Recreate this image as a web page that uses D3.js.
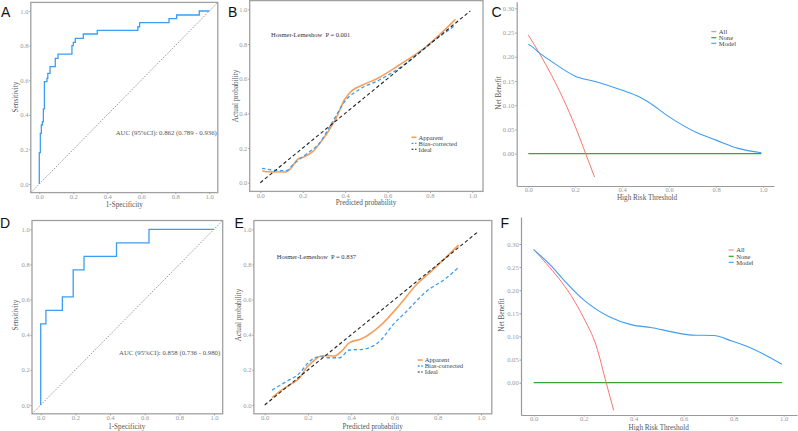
<!DOCTYPE html>
<html>
<head>
<meta charset="utf-8">
<script src="https://cdn.jsdelivr.net/npm/d3@7"></script>
<style>
  body { margin: 0; background: #fff; }
  text { font-family: "Liberation Serif", "DejaVu Serif", serif; }
  .lab { font-family: "Liberation Sans", Arial, sans-serif; }
</style>
</head>
<body>
<div id="chartDiv"></div>
<script>
// ---- data ----
var rocA_fpr = [0, 0, 0.006, 0.012, 0.018, 0.024, 0.03, 0.045, 0.05, 0.063, 0.094, 0.11, 0.192, 0.2, 0.212, 0.259, 0.341, 0.58, 0.59, 0.763, 0.808, 0.941, 1];
var rocA_tpr = [0, 0.181, 0.293, 0.341, 0.36, 0.434, 0.592, 0.61, 0.64, 0.678, 0.726, 0.751, 0.80, 0.819, 0.842, 0.867, 0.888, 0.909, 0.933, 0.956, 0.977, 1, 1];
var rocD_fpr = [0, 0, 0.03, 0.125, 0.1875, 0.25, 0.4375, 0.625, 1];
var rocD_tpr = [0, 0.462, 0.538, 0.615, 0.769, 0.846, 0.923, 1, 1];
var aucA = "AUC (95%CI): 0.862 (0.789 - 0.936)";
var aucD = "AUC (95%CI): 0.858 (0.736 - 0.980)";

var calB_appX = [0.01, 0.027, 0.121, 0.144, 0.176, 0.208, 0.247, 0.286, 0.325, 0.357, 0.396, 0.435, 0.482, 0.561, 0.655, 0.781, 0.92];
var calB_appY = [0.069, 0.063, 0.062, 0.083, 0.135, 0.15, 0.179, 0.236, 0.304, 0.371, 0.477, 0.534, 0.563, 0.607, 0.679, 0.784, 0.942];
var calB_bcX = [0.008, 0.058, 0.121, 0.16, 0.215, 0.278, 0.341, 0.404, 0.467, 0.561, 0.687, 0.813, 0.915];
var calB_bcY = [0.083, 0.073, 0.069, 0.111, 0.163, 0.227, 0.352, 0.477, 0.538, 0.592, 0.688, 0.813, 0.904];
var hlB = "Hosmer-Lemeshow  P = 0.001";

var calE_appX = [0.034, 0.068, 0.114, 0.16, 0.191, 0.222, 0.26, 0.284, 0.322, 0.353, 0.392, 0.446, 0.546, 0.623, 0.7, 0.777, 0.897];
var calE_appY = [0.042, 0.076, 0.114, 0.152, 0.209, 0.247, 0.279, 0.281, 0.279, 0.304, 0.355, 0.376, 0.465, 0.569, 0.683, 0.769, 0.911];
var calE_bcX = [0.034, 0.099, 0.16, 0.206, 0.253, 0.299, 0.345, 0.392, 0.453, 0.538, 0.592, 0.654, 0.746, 0.838, 0.897];
var calE_bcY = [0.085, 0.133, 0.18, 0.247, 0.275, 0.269, 0.269, 0.313, 0.317, 0.37, 0.455, 0.531, 0.645, 0.721, 0.784];
var hlE = "Hosmer-Lemeshow  P = 0.837";

var idealRange = [0, 0.99];
var calLegend = ["Apparent", "Bias-corrected", "Ideal"];

var dcaC_allT = [0, 0.05, 0.1, 0.15, 0.2, 0.25, 0.282];
var dcaC_allV = [0.245, 0.205, 0.161, 0.112, 0.056, -0.007, -0.048];
var dcaC_modT = [0, 0.016, 0.047, 0.1, 0.2, 0.285, 0.4, 0.47, 0.51, 0.6, 0.724, 0.8, 0.894, 0.993];
var dcaC_modV = [0.226, 0.221, 0.208, 0.19, 0.160, 0.149, 0.131, 0.118, 0.107, 0.076, 0.042, 0.028, 0.011, 0.002];
var dcaC_noneT = [0, 0.993];

var dcaF_allT = [0, 0.05, 0.1, 0.15, 0.2, 0.25, 0.29, 0.32];
var dcaF_allV = [0.288, 0.258, 0.226, 0.188, 0.14, 0.08, 0, -0.06];
var dcaF_modT = [0, 0.073, 0.127, 0.2, 0.3, 0.393, 0.473, 0.553, 0.633, 0.72, 0.793, 0.873, 0.993];
var dcaF_modV = [0.288, 0.251, 0.218, 0.179, 0.143, 0.125, 0.119, 0.110, 0.103, 0.102, 0.09, 0.074, 0.040];
var dcaF_noneT = [0, 0.993];
var dcaLegend = ["All", "None", "Model"];

var probTicks = [0, 0.2, 0.4, 0.6, 0.8, 1.0];
var nbTicks = [0, 0.05, 0.10, 0.15, 0.20, 0.25, 0.30];

// ---- colours ----
var blue = "#3d9df3", orange = "#f5a05c", red = "#f8766d", green = "#3aa23a";

var svg = d3.select("#chartDiv").append("svg")
    .attr("width", 798).attr("height", 431);

function zip(a, b) { return a.map(function(v, i) { return [v, b[i]]; }); }

// linear scale fixed by two known tick pixels, stretched over the axis extent
function scaleFrom(v0, p0, v1, p1, pmin, pmax) {
  var s = d3.scaleLinear().domain([v0, v1]).range([p0, p1]);
  return d3.scaleLinear().domain([s.invert(pmin), s.invert(pmax)]).range([pmin, pmax]);
}

var clipN = 0;
function panel(px, py, xt, yt, fmt, boxed) {
  var x = scaleFrom(0, px[0], 1, px[1], px[2], px[3]),
      y = scaleFrom(0, py[0], py[4], py[1], py[2], py[3]);
  var g = svg.append("g");
  var xa = g.append("g").attr("transform", "translate(0," + py[2] + ")")
      .call(d3.axisBottom(x).tickValues(probTicks).tickFormat(d3.format(".1f")).tickSize(1.5).tickPadding(0.2).tickSizeOuter(0));
  var ya = g.append("g").attr("transform", "translate(" + px[2] + ",0)")
      .call(d3.axisLeft(y).tickValues(yt).tickFormat(d3.format(fmt)).tickSize(1.5).tickPadding(0.8).tickSizeOuter(0));
  [xa, ya].forEach(function(a) {
    a.selectAll("text").attr("fill", "#9a9a9a").style("font-size", "6.6px")
      .style("font-family", "'Liberation Serif', serif");
    a.selectAll(".tick line").attr("stroke", "#9a9a9a");
    a.select(".domain").attr("stroke", "#9a9a9a").attr("stroke-width", 1.2);
    if (boxed) a.select(".domain").remove();
  });
  if (boxed) {
    g.append("rect").attr("x", px[2]).attr("y", py[3])
      .attr("width", px[3] - px[2]).attr("height", py[2] - py[3])
      .attr("fill", "none").attr("stroke", "#a0a0a0").attr("stroke-width", 1.3);
  }
  var id = "clip" + (clipN++);
  svg.append("clipPath").attr("id", id).append("rect")
    .attr("x", px[2]).attr("y", py[3]).attr("width", px[3] - px[2]).attr("height", py[2] - py[3]);
  var plot = g.append("g").attr("clip-path", "url(#" + id + ")");
  return {g: g, plot: plot, x: x, y: y};
}

function title(txt, x, y, rot) {
  var t = svg.append("text").attr("fill", "#555").style("font-size", "7.2px")
    .attr("text-anchor", "middle").attr("dy", "0.35em").text(txt);
  if (rot) t.attr("transform", "translate(" + x + "," + y + ") rotate(-90)");
  else t.attr("x", x).attr("y", y);
}

function letter(txt, x, y) {
  svg.append("text").attr("class", "lab").attr("x", x).attr("y", y)
    .style("font-size", "14px").attr("fill", "#111").text(txt);
}

function line(p, pts, color, w, dash, curve) {
  var l = d3.line().x(function(d) { return p.x(d[0]); }).y(function(d) { return p.y(d[1]); })
    .curve(curve || d3.curveLinear);
  p.plot.append("path").datum(pts).attr("d", l).attr("fill", "none")
    .attr("stroke", color).attr("stroke-width", w).attr("stroke-dasharray", dash || null);
}

function legend(items, x0, tx, rows, fs) {
  items.forEach(function(it, i) {
    svg.append("line").attr("x1", x0).attr("x2", x0 + 5).attr("y1", rows[i]).attr("y2", rows[i])
      .attr("stroke", it.c).attr("stroke-width", it.w).attr("stroke-dasharray", it.d || null);
    svg.append("text").attr("x", tx).attr("y", rows[i]).attr("dy", "0.35em")
      .style("font-size", fs).attr("fill", "#444").text(it.t);
  });
}

// ---- ROC panels ----
function roc(px, py, fpr, tpr, auc, aucX, aucY) {
  var p = panel(px, py, probTicks, probTicks, ".1f", true);
  var d = p.x.domain();
  line(p, [[d[0], d[0]], [d[1], d[1]]], "#777", 0.8, "1.5,1.5");
  line(p, zip(fpr, tpr), blue, 1.3, null, d3.curveStepAfter);
  svg.append("text").attr("x", aucX).attr("y", aucY).attr("dy", "0.35em")
    .style("font-size", "6.8px").attr("fill", "#555").text(auc);
  return p;
}
roc([39.3, 209.3, 30.8, 217.8], [184, 11, 192.6, 2.4, 1], rocA_fpr, rocA_tpr, aucA, 115.7, 132.3);
roc([40.7, 214, 32, 222.7], [405, 229.3, 413.8, 220.5, 1], rocD_fpr, rocD_tpr, aucD, 119, 352.3);
title("Sensitivity", 15, 97, true);  title("1-Specificity", 124.3, 204);
title("Sensitivity", 15, 315, true); title("1-Specificity", 126.7, 426);

// ---- calibration panels ----
function cal(px, py, ax, ay, bx, by, hl, hlX, hlY, lx, rows) {
  var p = panel(px, py, probTicks, probTicks, ".1f", true);
  line(p, zip(ax, ay), orange, 1.6, null, d3.curveMonotoneX);
  line(p, zip(bx, by), blue, 1.3, "3.5,2.5", d3.curveMonotoneX);
  line(p, [[idealRange[0], idealRange[0]], [idealRange[1], idealRange[1]]], "#222", 1.1, "3.5,2.5");
  svg.append("text").attr("x", hlX).attr("y", hlY).attr("dy", "0.35em")
    .style("font-size", "6.5px").style("white-space", "pre").attr("fill", "#333").text(hl);
  legend([{t: calLegend[0], c: orange, w: 1.6}, {t: calLegend[1], c: blue, w: 1.3, d: "2,1.5"},
          {t: calLegend[2], c: "#222", w: 1.1, d: "2,1.5"}], lx, lx + 7, rows, "6.6px");
}
cal([260.3, 472.4, 249.7, 483], [182.7, 9.3, 191.4, 0.6, 1], calB_appX, calB_appY, calB_bcX, calB_bcY,
    hlB, 271, 35, 411.5, [137.3, 143.3, 149.3]);
cal([264.7, 481, 253.9, 491.8], [405, 229.3, 413.8, 220.5, 1], calE_appX, calE_appY, calE_bcX, calE_bcY,
    hlE, 276.7, 256.7, 417.7, [360, 366, 372]);
title("Actual probability", 235, 96, true);   title("Predicted probability", 366, 202.5);
title("Actual probability", 238.3, 315, true); title("Predicted probability", 372.7, 426);

// ---- decision curves ----
function dca(px, py, allT, allV, modT, modV, noneT, lx, rows) {
  var p = panel(px, py, probTicks, nbTicks, ".2f", false);
  line(p, zip(noneT, noneT.map(function() { return 0; })), green, 1.2);
  line(p, zip(allT, allV), red, 1, null, d3.curveMonotoneX);
  line(p, zip(modT, modV), blue, 1.1, null, d3.curveMonotoneX);
  legend([{t: dcaLegend[0], c: red, w: 1}, {t: dcaLegend[1], c: green, w: 1.2},
          {t: dcaLegend[2], c: blue, w: 1.1}], lx, lx + 7.5, rows, "6.6px");
}
dca([528.3, 763, 516.7, 774], [153.7, 8.3, 186, 1.7, 0.3], dcaC_allT, dcaC_allV, dcaC_modT, dcaC_modV, dcaC_noneT,
    711.3, [31.7, 37.7, 43.3]);
dca([533.7, 783.7, 521, 797], [382.7, 244, 415, 217, 0.3], dcaF_allT, dcaF_allV, dcaF_modT, dcaF_modV, dcaF_noneT,
    728.7, [250, 256.3, 262.3]);
title("Net Benefit", 498.3, 93, true);  title("High Risk Threshold", 647, 197.8);
title("Net Benefit", 501, 315, true);   title("High Risk Threshold", 658.7, 427.2);

// ---- panel letters ----
letter("A", 1, 17); letter("B", 228, 17); letter("C", 491.5, 17);
letter("D", 0, 228); letter("E", 234.5, 228); letter("F", 500.5, 228);
</script>
</body>
</html>
